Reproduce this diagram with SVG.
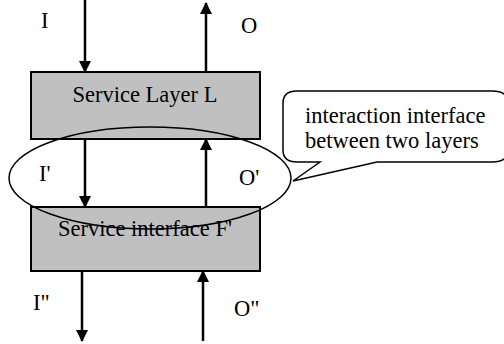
<svg xmlns="http://www.w3.org/2000/svg" width="504" height="344" viewBox="0 0 504 344">
<style>
.box{fill:#c0c0c0;stroke:#000;stroke-width:2}
.ln{stroke:#000;stroke-width:2.5;fill:none}
.t{font-family:"Liberation Serif","Times New Roman",serif;font-size:22.5px;fill:#000}
</style>
<defs>
<marker id="ah" markerWidth="12" markerHeight="12" refX="11" refY="6" orient="auto" markerUnits="userSpaceOnUse" viewBox="0 0 12 12">
<path d="M0,0 L12,6 L0,12 z" fill="#000"/>
</marker>
</defs>
<g id="layerL">
<rect class="box" x="31" y="72" width="229" height="67"/>
<text class="t" x="145" y="102" text-anchor="middle">Service Layer L</text>
</g>
<g id="interfaceF">
<rect class="box" x="31" y="207" width="229" height="64"/>
<text class="t" x="145" y="236" text-anchor="middle">Service interface F'</text>
</g>
<g id="connectors">
<line class="ln" x1="85" y1="0" x2="85" y2="72" marker-end="url(#ah)"/>
<line class="ln" x1="206" y1="72" x2="206" y2="3" marker-end="url(#ah)"/>
<line class="ln" x1="85" y1="139" x2="85" y2="207" marker-end="url(#ah)"/>
<line class="ln" x1="206" y1="207" x2="206" y2="139" marker-end="url(#ah)"/>
<line class="ln" x1="82" y1="271" x2="82" y2="341" marker-end="url(#ah)"/>
<line class="ln" x1="203" y1="341" x2="203" y2="271" marker-end="url(#ah)"/>
</g>
<g id="labels">
<text class="t" x="41" y="28">I</text>
<text class="t" x="241" y="33">O</text>
<text class="t" x="39" y="181">I'</text>
<text class="t" x="239" y="185">O'</text>
<text class="t" x="33" y="310">I"</text>
<text class="t" x="234" y="316">O"</text>
</g>
<g id="ellipse">
<ellipse cx="150" cy="178" rx="141" ry="51" fill="none" stroke="#000" stroke-width="1.5"/>
</g>
<g id="callout">
<path d="M297,91 L492,91 Q508,91 508,103 L508,150 Q508,162 492,162 L377,162 L293,181 L320,162 L297,162 Q283,162 283,150 L283,103 Q283,91 297,91 z" fill="#fff" stroke="#000" stroke-width="1.5"/>
<text class="t" x="305" y="123">interaction interface</text>
<text class="t" x="305" y="148">between two layers</text>
</g>
</svg>
